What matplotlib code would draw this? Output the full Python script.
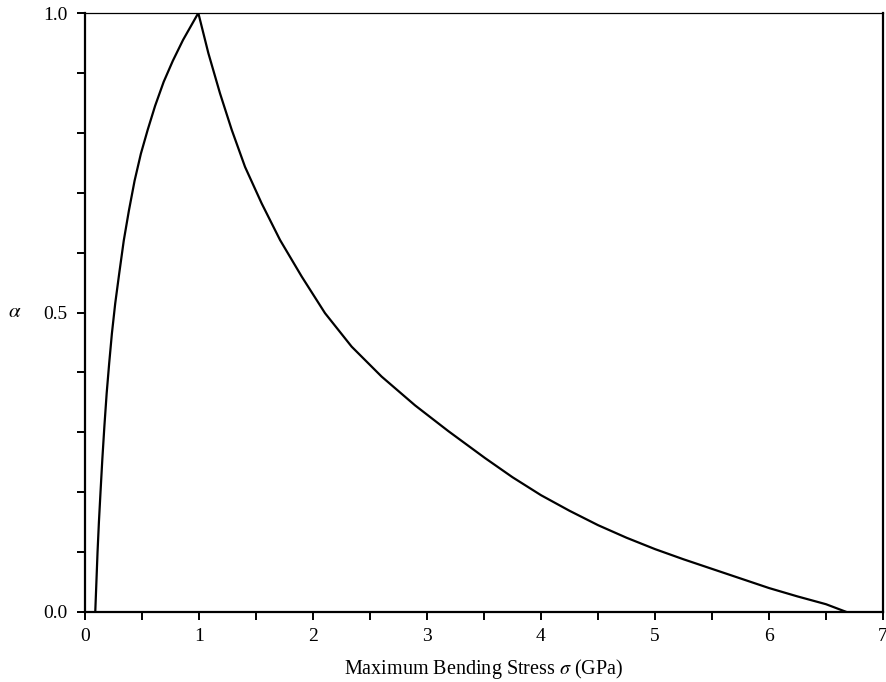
import matplotlib
matplotlib.use("Agg")
import matplotlib.pyplot as plt
from matplotlib.ticker import MultipleLocator, FixedLocator

plt.rcParams["font.family"] = ["Liberation Serif", "DejaVu Serif"]
plt.rcParams["mathtext.fontset"] = "stix"

# curve: rising branch then falling branch
rise_stress = [0.090, 0.100, 0.110, 0.122, 0.136, 0.152, 0.170, 0.190,
               0.212, 0.236, 0.265, 0.300, 0.340, 0.385, 0.435, 0.490,
               0.550, 0.615, 0.690, 0.770, 0.860, 0.994]
rise_alpha = [0.0, 0.05, 0.10, 0.15, 0.20, 0.255, 0.31, 0.365,
              0.415, 0.465, 0.515, 0.565, 0.62, 0.67, 0.72, 0.765,
              0.805, 0.845, 0.885, 0.92, 0.955, 1.0]

fall_stress = [0.994, 1.082, 1.184, 1.287, 1.404, 1.550, 1.711, 1.901,
               2.105, 2.339, 2.602, 2.895, 3.187, 3.509, 3.75, 4.0,
               4.25, 4.5, 4.75, 5.0, 5.25, 5.5, 5.75, 6.0, 6.25, 6.5, 6.68]
fall_alpha = [1.0, 0.933, 0.866, 0.805, 0.743, 0.682, 0.621, 0.560,
              0.499, 0.443, 0.393, 0.345, 0.302, 0.257, 0.225, 0.195,
              0.169, 0.145, 0.124, 0.105, 0.088, 0.072, 0.056, 0.040,
              0.026, 0.013, 0.0]

x_ticks = [0, 1, 2, 3, 4, 5, 6, 7]
y_ticks = [0.0, 0.5, 1.0]
y_tick_labels = ["0.0", "0.5", "1.0"]

fig = plt.figure(figsize=(8.87, 6.82), dpi=100)
ax = fig.add_axes([85 / 887, 70 / 682, 798 / 887, 599 / 682])

ax.plot(rise_stress + fall_stress[1:], rise_alpha + fall_alpha[1:],
        color="black", lw=1.6, solid_joinstyle="miter")

ax.set_xlim(0, 7)
ax.set_ylim(0, 1)

ax.xaxis.set_major_locator(FixedLocator(x_ticks))
ax.xaxis.set_minor_locator(MultipleLocator(0.5))
ax.yaxis.set_major_locator(FixedLocator(y_ticks))
ax.yaxis.set_minor_locator(MultipleLocator(0.1))
ax.set_yticklabels(y_tick_labels)

for side in ["left", "bottom", "right"]:
    ax.spines[side].set_linewidth(1.6)
ax.spines["top"].set_linewidth(0.9)

ax.tick_params(which="both", direction="out", length=5.5, width=1.4,
               top=False, right=False, labelsize=14)
ax.tick_params(axis="y", pad=7)
ax.tick_params(axis="x", pad=6)

ax.set_xlabel(r"Maximum Bending Stress $\sigma$ (GPa)", fontsize=14.5)
ax.xaxis.label.set_va("center")
ax.xaxis.set_label_coords(0.5, -0.095)
ax.set_ylabel(r"$\alpha$", fontsize=15, rotation=0, va="center", ha="center")
ax.yaxis.set_label_coords(-0.088, 0.5)

fig.savefig("out.png", dpi=100)
